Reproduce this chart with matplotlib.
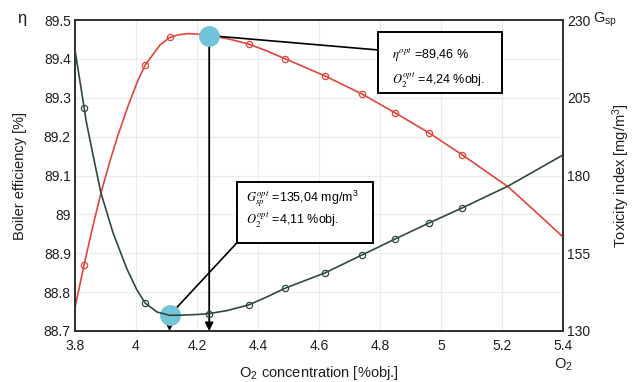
import matplotlib
matplotlib.use("Agg")
import matplotlib.pyplot as plt
from matplotlib.patches import Rectangle

plt.rcParams["font.family"] = ["Liberation Sans", "DejaVu Sans"]
plt.rcParams["mathtext.fontset"] = "stix"

# boiler efficiency vs O2 (left axis)
eff_o2 = [3.80, 3.83, 3.856, 3.885, 3.915, 3.941, 3.974, 4.007, 4.03, 4.079, 4.11,
          4.14, 4.17, 4.20, 4.24, 4.30, 4.37, 4.43, 4.49, 4.62, 4.74, 4.85, 4.96,
          5.07, 5.22, 5.30, 5.40]
eff = [88.760, 88.871, 88.961, 89.055, 89.138, 89.204, 89.279, 89.346, 89.384, 89.436,
       89.455, 89.462, 89.465, 89.464, 89.460, 89.452, 89.438, 89.420, 89.400, 89.356,
       89.310, 89.261, 89.210, 89.153, 89.071, 89.014, 88.942]
eff_marks = [3.83, 4.03, 4.11, 4.37, 4.49, 4.62, 4.74, 4.85, 4.96, 5.07]

# toxicity index vs O2 (right axis)
tox_o2 = [3.80, 3.83, 3.836, 3.859, 3.885, 3.925, 3.97, 4.003, 4.03, 4.069, 4.11, 4.15,
          4.20, 4.24, 4.30, 4.37, 4.43, 4.49, 4.62, 4.74, 4.85, 4.96, 5.07, 5.22, 5.40]
tox = [220.4, 201.7, 197.8, 186.6, 174.4, 161.5, 150.0, 143.2, 139.0, 136.1, 135.04,
       135.1, 135.3, 135.6, 136.6, 138.4, 141.0, 143.8, 148.7, 154.4, 159.6, 164.7,
       169.6, 176.6, 186.6]
tox_marks = [3.83, 4.03, 4.24, 4.37, 4.49, 4.62, 4.74, 4.85, 4.96, 5.07]

# optimum points
eta_opt_o2, eta_opt = 4.24, 89.46
tox_opt_o2, tox_opt = 4.11, 135.04

x_ticks = [3.8, 4.0, 4.2, 4.4, 4.6, 4.8, 5.0, 5.2, 5.4]
x_labels = ["3.8", "4", "4.2", "4.4", "4.6", "4.8", "5", "5.2", "5.4"]
eff_ticks = [88.7, 88.8, 88.9, 89.0, 89.1, 89.2, 89.3, 89.4, 89.5]
eff_labels = ["88.7", "88.8", "88.9", "89", "89.1", "89.2", "89.3", "89.4", "89.5"]
tox_ticks = [130, 155, 180, 205, 230]

red = "#e5443b"
dark = "#2f4a3d"
cyan = "#72c4d8"
txt = "#1e1e1e"

fig = plt.figure(figsize=(6.32, 3.82), dpi=100)
ax = fig.add_axes([75 / 632, 1 - 331 / 382, 488 / 632, 311 / 382])
ax2 = ax.twinx()

ax.set_xlim(3.8, 5.4)
ax.set_ylim(88.7, 89.5)
ax2.set_ylim(130, 230)

ax.set_xticks(x_ticks, x_labels)
ax.set_yticks(eff_ticks, eff_labels)
ax2.set_yticks(tox_ticks, [str(t) for t in tox_ticks])
ax.tick_params(length=0, labelsize=10, labelcolor=txt)
ax.tick_params(axis="x", pad=6)
ax.tick_params(axis="y", pad=3)
ax2.tick_params(length=0, labelsize=10, labelcolor=txt, pad=3)
ax.grid(color="#ececec", lw=0.8)
for a in (ax, ax2):
    for s in a.spines.values():
        s.set_color("#333333")
        s.set_linewidth(1.4)

ax.plot(eff_o2, eff, color=red, lw=1.2, marker="o", ms=4.5, mfc="none", mew=0.9,
        markevery=[eff_o2.index(x) for x in eff_marks], zorder=3)
ax2.plot(tox_o2, tox, color=dark, lw=1.2, marker="o", ms=4.5, mfc="none", mew=0.9,
         markevery=[tox_o2.index(x) for x in tox_marks], zorder=3)


def tox_to_eff(v):
    # map a right-axis value onto the left-axis scale
    return 88.7 + (v - 130) / 100 * 0.8


tox_opt_left = tox_to_eff(tox_opt)

# arrows from optimum points down to the O2 axis
ax.annotate("", xy=(eta_opt_o2, 88.7), xytext=(eta_opt_o2, eta_opt),
            arrowprops=dict(arrowstyle="-|>", color="black", lw=1.3,
                            mutation_scale=12, shrinkA=0, shrinkB=0), zorder=4)
ax.annotate("", xy=(tox_opt_o2, 88.7), xytext=(tox_opt_o2, tox_opt_left),
            arrowprops=dict(arrowstyle="-|>", color="black", lw=1.3,
                            mutation_scale=12, shrinkA=0, shrinkB=0), zorder=4)

# annotation boxes and leader lines
box1 = (4.793, 89.312, 0.407, 0.157)
box2 = (4.331, 88.927, 0.446, 0.157)
for x0, y0, w, h in (box1, box2):
    ax.add_patch(Rectangle((x0, y0), w, h, fill=True, fc="white", ec="black",
                           lw=1.4, zorder=5))
ax.plot([eta_opt_o2, box1[0]], [eta_opt, 89.423], color="black", lw=1.2, zorder=4)
ax.plot([tox_opt_o2, box2[0]], [tox_opt_left, box2[1]], color="black", lw=1.2, zorder=4)

ax.text(4.838, 89.41, r"$\eta^{opt}$ =89,46 %", fontsize=9, va="center", zorder=6)
ax.text(4.838, 89.345, r"$O_2^{opt}$ =4,24 %obj.", fontsize=9, va="center", zorder=6)
ax.text(4.36, 89.04, r"$G_{sp}^{opt}$ =135,04 mg/m$^{\mathregular{3}}$", fontsize=9,
        va="center", zorder=6)
ax.text(4.36, 88.985, r"$O_2^{opt}$ =4,11 %obj.", fontsize=9, va="center", zorder=6)

ax.plot([eta_opt_o2], [eta_opt], "o", ms=14, color=cyan, zorder=7, clip_on=False)
ax.plot([tox_opt_o2], [tox_opt_left], "o", ms=14, color=cyan, zorder=7, clip_on=False)

ax.set_xlabel(r"O$_\mathregular{2}$ concentration [%obj.]", fontsize=10.5,
              color=txt, labelpad=8)
ax.set_ylabel("Boiler efficiency [%]", fontsize=10.5, color=txt, labelpad=12)
ax2.set_ylabel(r"Toxicity index [mg/m$^\mathregular{3}$]", fontsize=10.5, color=txt,
               labelpad=14)

fig.text(22 / 632, 1 - 18 / 382, "η", fontsize=12, color=txt, ha="center", va="center")
fig.text(593 / 632, 1 - 20 / 382, r"G$_\mathregular{sp}$", fontsize=10.5, color=txt,
         ha="left", va="center")
fig.text(563 / 632, 1 - 365 / 382, r"O$_\mathregular{2}$", fontsize=10.5, color=txt,
         ha="center", va="center")

fig.savefig("out.png", dpi=100)
